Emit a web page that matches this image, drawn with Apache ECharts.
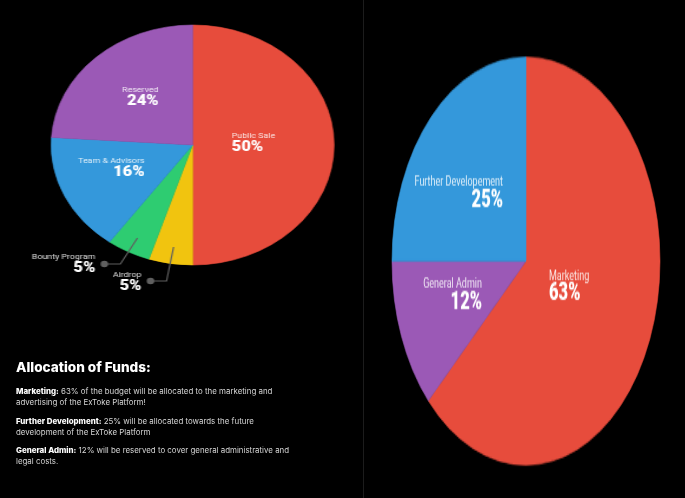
<!DOCTYPE html>
<html lang="en">
<head>
<meta charset="UTF-8" />
<title>Allocation of Funds</title>
<script src="https://cdn.jsdelivr.net/npm/echarts@6/dist/echarts.min.js"></script>
<style>
    html, body { margin: 0; padding: 0; background: #000; overflow: hidden; }
    #page { position: absolute; left: 0; top: 0; width: 685px; height: 498px; }
    .pie { position: absolute; left: 0; top: 0; transform-origin: 0 0; }
</style>
</head>
<body>
<div id="page"></div>
<div id="left" class="pie"></div>
<div id="right" class="pie"></div>
<script type="text/javascript">
    // token sale
    var saleNames = ['Public Sale', 'Airdrop', 'Bounty Program', 'Team & Advisors', 'Reserved'];
    var saleValues = [50, 5, 5, 16, 24];
    var saleColors = ['#E74C3C', '#F1C40F', '#2ECC71', '#3498DB', '#9B59B6'];

    // use of funds
    var fundNames = ['Marketing', 'General Admin', 'Further Developement'];
    var fundValues = [63, 12, 25];
    var fundColors = ['#E74C3C', '#9B59B6', '#3498DB'];

    var noteTitle = 'Allocation of Funds:';
    var notes = [
        ['Marketing:', ' 63% of the budget will be allocated to the marketing and', 'advertising of the ExToke Platform!'],
        ['Further Development:', ' 25% will be allocated towards the future', 'development of the ExToke Platform'],
        ['General Admin:', ' 12% will be reserved to cover general administrative and', 'legal costs.']
    ];

    var noteFont = 'Inter';

    // text and divider on the page itself
    var page = echarts.init(document.getElementById('page'), null, { width: 685, height: 498 });
    var pageItems = [
        { type: 'line', shape: { x1: 363.5, y1: 0, x2: 363.5, y2: 498 }, style: { stroke: '#1c1c1c', lineWidth: 1 } },
        { type: 'text', x: 16, y: 361, style: { text: noteTitle, fill: '#fff', font: '800 13.6px ' + noteFont } }
    ];
    var noteTops = [386, 416, 445];
    notes.forEach(function (n, i) {
        pageItems.push({
            type: 'text', x: 16, y: noteTops[i],
            style: {
                text: '{b|' + n[0] + '}{r|' + n[1] + '}\n{r|' + n[2] + '}',
                rich: {
                    b: { fill: '#fff', font: '800 7.9px ' + noteFont, lineHeight: 11 },
                    r: { fill: '#d6d6d6', font: '400 7.9px ' + noteFont, lineHeight: 11 }
                }
            }
        });
    });
    page.setOption({ backgroundColor: '#000', animation: false, graphic: { elements: pageItems } });

    // each pie is a normal circle, the picture is stretched into an ellipse
    function drawPie(id, o) {
        var el = document.getElementById(id);
        var w = o.width / o.sx, h = o.height / o.sy;
        el.style.left = o.left + 'px';
        el.style.width = w + 'px';
        el.style.height = h + 'px';
        el.style.transform = 'scale(' + o.sx + ',' + o.sy + ')';
        var chart = echarts.init(el, null, { width: w, height: h });
        var data = o.names.map(function (n, i) {
            var side = o.anchors[i][2];
            return {
                name: n,
                value: o.values[i],
                itemStyle: { color: o.colors[i], borderColor: o.colors[i], borderWidth: 0.6 },
                label: {
                    rich: {
                        n: { color: 'rgba(255,255,255,0.85)', fontFamily: 'Roboto', fontSize: o.nameSize, lineHeight: o.nameLine, align: side },
                        v: { color: '#fff', fontFamily: 'Roboto', fontWeight: 900, fontSize: o.valueSize, lineHeight: o.valueLine, align: side }
                    }
                }
            };
        });
        chart.setOption({
            animation: false,
            graphic: { elements: o.extras ? o.extras(function (x) { return (x - o.left) / o.sx; }, function (y) { return y / o.sy; }) : [] },
            series: [{
                type: 'pie',
                center: [(o.cx - o.left) / o.sx, o.cy / o.sy],
                radius: o.ry / o.sy,
                startAngle: 90,
                clockwise: true,
                silent: true,
                labelLine: { show: false },
                label: {
                    show: true,
                    position: 'inside',
                    formatter: '{n|{b}}\n{v|{c}%}'
                },
                labelLayout: function (p) {
                    var a = o.anchors[p.dataIndex];
                    return { x: (a[0] - o.left) / o.sx, y: a[1] / o.sy, align: a[2], verticalAlign: 'top' };
                },
                data: data
            }]
        });
        return chart;
    }

    var leaderColor = '#5f5f5f';
    function leader(points, lx, ly) {
        var pts = points.map(function (p) { return [lx(p[0]), ly(p[1])]; });
        var end = pts[pts.length - 1];
        return [
            { type: 'polyline', z: 100, shape: { points: pts }, style: { stroke: leaderColor, fill: null, lineWidth: 1.2 } },
            { type: 'circle', z: 100, shape: { cx: end[0], cy: end[1], r: 3.2 }, style: { fill: leaderColor } }
        ];
    }

    drawPie('left', {
        left: 0, width: 364, height: 340, sx: 141 / 120, sy: 1,
        cx: 192, cy: 145, ry: 120,
        names: saleNames, values: saleValues, colors: saleColors,
        nameSize: 7.5, nameLine: 10, valueSize: 14, valueLine: 13,
        anchors: [[231, 131, 'left'], [141, 270, 'right'], [95, 252, 'right'], [144, 156, 'right'], [158, 85, 'right']],
        extras: function (lx, ly) {
            return leader([[173, 247], [166, 281], [150, 281]], lx, ly)
                .concat(leader([[137, 238], [120, 264], [104, 264]], lx, ly));
        }
    });

    drawPie('right', {
        left: 364, width: 321, height: 498, sx: 1, sy: 204 / 134,
        cx: 526, cy: 261, ry: 204,
        names: fundNames, values: fundValues, colors: fundColors,
        nameSize: 9, nameLine: 10.5, valueSize: 16.5, valueLine: 13,
        anchors: [[549, 268, 'left'], [482, 277, 'right'], [503, 175, 'right']]
    });
</script>
</body>
</html>
